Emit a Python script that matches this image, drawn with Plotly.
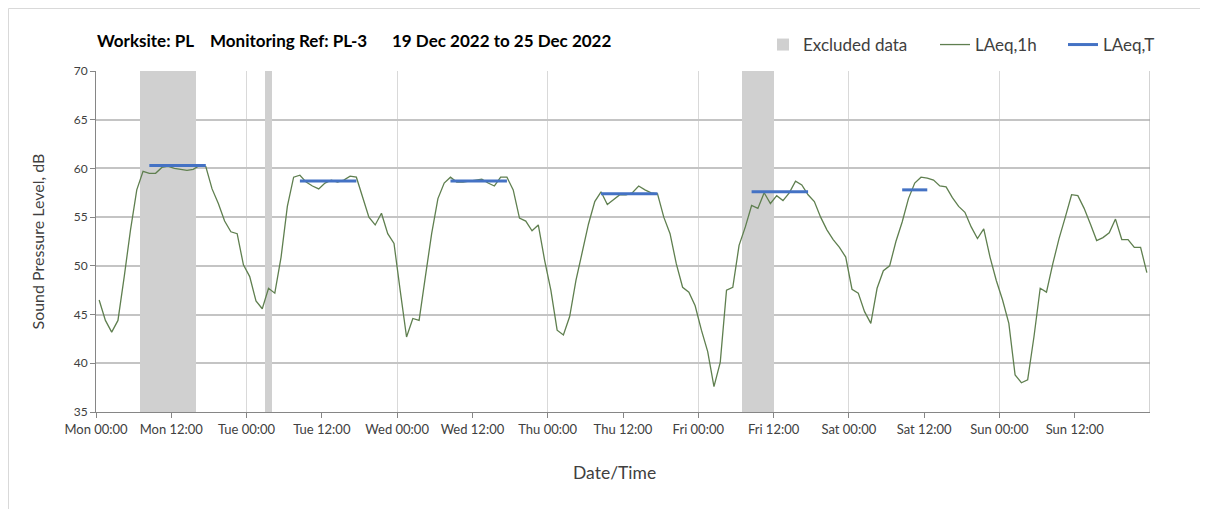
import plotly.graph_objects as go

# Hourly LAeq,1h values (Mon 00:00 .. Sun 23:00), plotted at mid-hour
laeq_1h = [
    46.5, 44.4, 43.2, 44.4, 48.9, 53.7, 57.8, 59.7, 59.5, 59.5,
    60.1, 60.2, 60.0, 59.9, 59.8, 59.9, 60.3, 60.2, 57.9, 56.4,
    54.6, 53.5, 53.3, 50.1, 48.9, 46.4, 45.6, 47.7, 47.2, 50.9,
    56.1, 59.1, 59.3, 58.6, 58.2, 57.9, 58.5, 58.8, 58.6, 58.8,
    59.2, 59.1, 57.1, 55.0, 54.2, 55.4, 53.3, 52.3, 47.4, 42.7,
    44.6, 44.4, 48.9, 53.3, 56.9, 58.5, 59.1, 58.6, 58.6, 58.7,
    58.8, 58.9, 58.5, 58.2, 59.1, 59.1, 57.8, 54.9, 54.6, 53.6,
    54.2, 50.6, 47.5, 43.4, 42.9, 44.8, 48.5, 51.3, 54.3, 56.6,
    57.6, 56.3, 56.8, 57.3, 57.3, 57.5, 58.2, 57.8, 57.5, 57.4,
    55.0, 53.3, 50.2, 47.8, 47.3, 45.9, 43.4, 41.2, 37.6, 40.1,
    47.5, 47.8, 52.1, 54.0, 56.2, 55.9, 57.5, 56.4, 57.2, 56.7,
    57.5, 58.7, 58.3, 57.3, 56.6, 55.0, 53.7, 52.7, 51.9, 50.9,
    47.6, 47.2, 45.3, 44.1, 47.7, 49.5, 50.0, 52.5, 54.5, 56.9,
    58.5, 59.1, 59.0, 58.8, 58.2, 58.1, 57.0, 56.1, 55.5, 54.0,
    52.8, 53.8, 50.9, 48.5, 46.5, 44.1, 38.8, 38.0, 38.3, 42.7,
    47.7, 47.3, 50.2, 52.8, 55.0, 57.3, 57.2, 55.9, 54.3, 52.6,
    52.9, 53.4, 54.8, 52.7, 52.7, 51.9, 51.9, 49.3,
]
hours = [h + 0.5 for h in range(len(laeq_1h))]

# LAeq,T periods: (first hour index, last hour index, level)
laeq_t_start = [8, 32, 56, 80, 104, 128]
laeq_t_end = [17, 41, 65, 89, 113, 132]
laeq_t_level = [60.3, 58.7, 58.7, 57.4, 57.6, 57.8]

# Excluded data periods (hours from Mon 00:00)
excl_start = [7, 27, 103]
excl_end = [16, 28, 108]

tick_vals = list(range(0, 168, 12))
tick_text = ["Mon 00:00", "Mon 12:00", "Tue 00:00", "Tue 12:00", "Wed 00:00",
             "Wed 12:00", "Thu 00:00", "Thu 12:00", "Fri 00:00", "Fri 12:00",
             "Sat 00:00", "Sat 12:00", "Sun 00:00", "Sun 12:00"]

Y_MIN, Y_MAX = 35, 70
FONT = "Lato"
PW, PH = 1054, 341  # plot area size in px
X0 = 96              # plot area left edge in page px


def leg(text_start_px):
    return dict(orientation="h", x=(text_start_px - 40 - X0) / PW,
                xanchor="left", y=1.0 + 26 / PH, yanchor="middle",
                font=dict(size=17, color="#404040"), itemwidth=30,
                bgcolor="rgba(0,0,0,0)")


fig = go.Figure()

fig.add_trace(go.Bar(
    x=[(s + e) / 2 for s, e in zip(excl_start, excl_end)],
    y=[Y_MAX - Y_MIN] * len(excl_start),
    base=[Y_MIN] * len(excl_start),
    width=[e - s for s, e in zip(excl_start, excl_end)],
    marker=dict(color="#d0d0d0", line=dict(width=0)),
    name="Excluded data",
    hoverinfo="skip",
    legend="legend",
))

fig.add_trace(go.Scatter(
    x=hours, y=laeq_1h, mode="lines",
    line=dict(color="#5f7f4f", width=1.3),
    name="LAeq,1h",
    legend="legend2",
))

tx, ty = [], []
for s, e, v in zip(laeq_t_start, laeq_t_end, laeq_t_level):
    tx += [hours[s], hours[e], None]
    ty += [v, v, None]
fig.add_trace(go.Scatter(
    x=tx, y=ty, mode="lines",
    line=dict(color="#4472c4", width=3),
    name="LAeq,T",
    legend="legend3",
))

fig.update_layout(
    width=1200, height=501,
    margin=dict(l=88, r=58, t=63, b=97),
    paper_bgcolor="white", plot_bgcolor="white",
    font=dict(family=FONT, size=13, color="#404040"),
    bargap=0,
    showlegend=True,
    legend=leg(803),
    legend2=leg(975),
    legend3=leg(1103),
    xaxis=dict(
        range=[0, 168], tickvals=tick_vals, ticktext=tick_text,
        showgrid=False, zeroline=False,
        ticks="outside", ticklen=5, tickcolor="#868686",
        showline=True, linecolor="#868686", linewidth=1, mirror=False,
        tickfont=dict(size=13, color="#404040"),
        minor=dict(tickmode="linear", tick0=0, dtick=24, showgrid=True,
                   gridcolor="#d9d9d9", gridwidth=1, ticks=""),
    ),
    yaxis=dict(
        range=[Y_MIN, Y_MAX], dtick=5, showgrid=True, gridcolor="#c4c4c4",
        gridwidth=1.5, zeroline=False,
        ticks="outside", ticklen=5, tickcolor="#868686",
        showline=True, linecolor="#868686", linewidth=1,
        tickfont=dict(size=12, color="#404040"),
    ),
    annotations=[
        dict(text="<b>Worksite: PL    Monitoring Ref: PL-3      19 Dec 2022 to 25 Dec 2022</b>",
             xref="paper", yref="paper", x=-1 / PW, y=1 + 31 / PH,
             xanchor="left", yanchor="middle", showarrow=False,
             font=dict(size=17, color="#000000")),
        dict(text="Sound Pressure Level, dB", textangle=-90,
             xref="paper", yref="paper", x=-59 / PW, y=0.5,
             xanchor="center", yanchor="middle", showarrow=False,
             font=dict(size=16, color="#404040")),
        dict(text="Date/Time",
             xref="paper", yref="paper", x=(614 - X0) / PW, y=-60 / PH,
             xanchor="center", yanchor="middle", showarrow=False,
             font=dict(size=17.5, color="#404040")),
    ],
    shapes=[
        dict(type="line", xref="x", yref="paper", x0=168, x1=168, y0=0, y1=1,
             line=dict(color="#a6a6a6", width=1)),
        dict(type="rect", xref="paper", yref="paper",
             x0=-87.5 / PW, x1=1.2, y0=-0.5, y1=1 + 62.5 / PH,
             line=dict(color="#d9d9d9", width=1), fillcolor="rgba(0,0,0,0)",
             layer="below"),
    ],
)

fig.write_html("out.html")
